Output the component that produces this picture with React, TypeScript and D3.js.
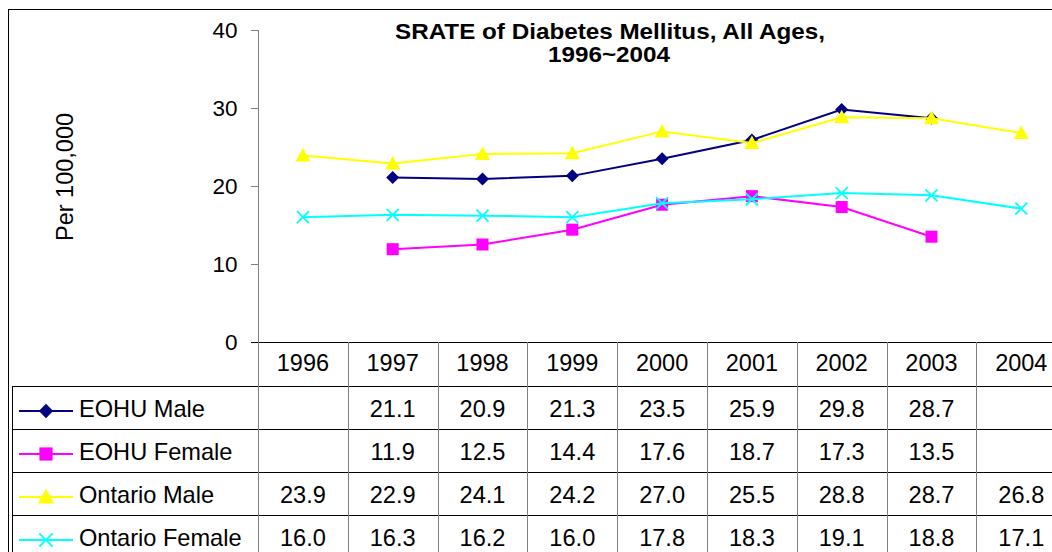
import React from "react";
import * as d3 from "d3";

const years = ["1996", "1997", "1998", "1999", "2000", "2001", "2002", "2003", "2004"];
const eohuMale: (number | null)[] = [null, 21.1, 20.9, 21.3, 23.5, 25.9, 29.8, 28.7, null];
const eohuFemale: (number | null)[] = [null, 11.9, 12.5, 14.4, 17.6, 18.7, 17.3, 13.5, null];
const ontarioMale: (number | null)[] = [23.9, 22.9, 24.1, 24.2, 27.0, 25.5, 28.8, 28.7, 26.8];
const ontarioFemale: (number | null)[] = [16.0, 16.3, 16.2, 16.0, 17.8, 18.3, 19.1, 18.8, 17.1];
const yTicks = [0, 10, 20, 30, 40];

const seriesList = [
  { name: "EOHU Male", values: eohuMale, color: "#000080", marker: "diamond" },
  { name: "EOHU Female", values: eohuFemale, color: "#FF00FF", marker: "square" },
  { name: "Ontario Male", values: ontarioMale, color: "#FFFF00", marker: "triangle" },
  { name: "Ontario Female", values: ontarioFemale, color: "#00FFFF", marker: "x" },
];

const FONT = "'Liberation Sans', Arial, sans-serif";

function Marker({ type, x, y, color, k = 1 }: { type: string; x: number; y: number; color: string; k?: number }) {
  if (type === "diamond") {
    const s = 6.5 * k;
    return <path d={`M${x},${y - s}L${x + s},${y}L${x},${y + s}L${x - s},${y}Z`} fill={color} />;
  }
  if (type === "square") {
    const s = 6 * k;
    return <rect x={x - s} y={y - s} width={2 * s} height={2 * s} fill={color} />;
  }
  if (type === "triangle") {
    const s = 7.5 * k;
    return <path d={`M${x},${y - s}L${x + s},${y + s * 0.8}L${x - s},${y + s * 0.8}Z`} fill={color} />;
  }
  const s = 6 * k;
  return (
    <g stroke={color} strokeWidth={1.8}>
      <line x1={x - s} y1={y - s} x2={x + s} y2={y + s} />
      <line x1={x - s} y1={y + s} x2={x + s} y2={y - s} />
    </g>
  );
}

export default function App() {
  const plotLeft = 258;
  const colW = 89.8;
  const x = d3.scaleBand<string>().domain(years).range([plotLeft, plotLeft + colW * years.length]);
  const y = d3.scaleLinear().domain([0, 40]).range([342, 30]);
  const cx = (yr: string) => (x(yr) as number) + x.bandwidth() / 2;
  const rowTops = [342, 386, 429, 472, 515, 558];
  const line = d3
    .line<number | null>()
    .defined((d) => d != null)
    .x((_, i) => cx(years[i]))
    .y((d) => y(d as number));

  return (
    <svg
      width={1052}
      height={552}
      style={{ position: "absolute", left: 0, top: 0, background: "#fff" }}
      fontFamily={FONT}
    >
      <rect x={0} y={0} width={1052} height={552} fill="#fff" />
      {/* outer border */}
      <rect x={8.5} y={9.5} width={1200} height={700} fill="none" stroke="#000" strokeWidth={1} />
      {/* title */}
      <text x={610} y={38.5} textAnchor="middle" fontSize={22.5} fontWeight="bold" textLength={430} lengthAdjust="spacingAndGlyphs">
        SRATE of Diabetes Mellitus, All Ages,
      </text>
      <text x={609} y={62} textAnchor="middle" fontSize={22.5} fontWeight="bold" textLength={122} lengthAdjust="spacingAndGlyphs">
        1996~2004
      </text>
      {/* y axis label */}
      <text transform={`translate(73,177) rotate(-90)`} textAnchor="middle" fontSize={23.5}>
        Per 100,000
      </text>
      {/* y axis */}
      <line x1={plotLeft + 0.5} y1={y(40)} x2={plotLeft + 0.5} y2={y(0)} stroke="#808080" />
      {yTicks.map((t) => (
        <g key={t}>
          <line x1={251} x2={plotLeft} y1={Math.round(y(t)) + 0.5} y2={Math.round(y(t)) + 0.5} stroke="#808080" />
          <text x={237.5} y={y(t) + 7.5} textAnchor="end" fontSize={22.5}>
            {t}
          </text>
        </g>
      ))}
      {/* table */}
      <line x1={251} x2={1052} y1={342.5} y2={342.5} stroke="#000" />
      {rowTops.slice(1, 5).map((ry) => (
        <line key={ry} x1={12} x2={1052} y1={ry + 0.5} y2={ry + 0.5} stroke="#000" />
      ))}
      <line x1={12.5} x2={12.5} y1={386} y2={552} stroke="#000" />
      {years.map((yr) => (
        <line
          key={yr}
          x1={Math.round(x(yr) as number) + 0.5}
          x2={Math.round(x(yr) as number) + 0.5}
          y1={342}
          y2={552}
          stroke="#808080"
        />
      ))}
      {years.map((yr) => (
        <text key={yr} x={cx(yr)} y={371} textAnchor="middle" fontSize={23.5}>
          {yr}
        </text>
      ))}
      {seriesList.map((s, r) => {
        const top = rowTops[r + 1];
        const mid = top + 22;
        return (
          <g key={s.name}>
            <line x1={19} x2={73} y1={top + 25} y2={top + 25} stroke={s.color} strokeWidth={2} />
            <Marker type={s.marker} x={46} y={top + 25} color={s.color} k={1.1} />
            <text x={79} y={mid + 9} fontSize={23.6}>
              {s.name}
            </text>
            {s.values.map((v, i) =>
              v == null ? null : (
                <text key={i} x={cx(years[i])} y={mid + 9} textAnchor="middle" fontSize={23.6}>
                  {v.toFixed(1)}
                </text>
              )
            )}
          </g>
        );
      })}
      {/* series */}
      {seriesList.map((s) => (
        <g key={s.name}>
          <path d={line(s.values) || ""} fill="none" stroke={s.color} strokeWidth={2} />
          {s.values.map((v, i) =>
            v == null ? null : <Marker key={i} type={s.marker} x={cx(years[i])} y={y(v)} color={s.color} />
          )}
        </g>
      ))}
    </svg>
  );
}
